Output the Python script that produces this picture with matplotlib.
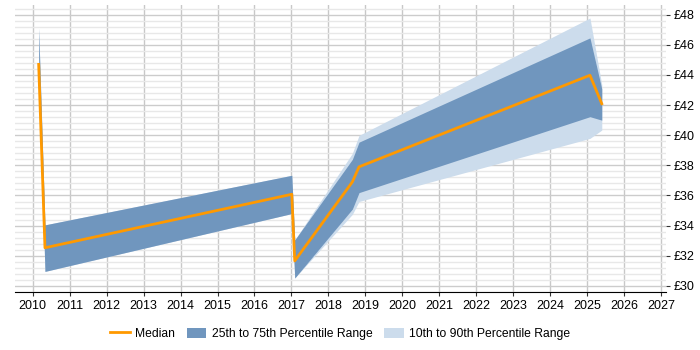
import matplotlib
matplotlib.use("Agg")
import matplotlib.pyplot as plt
from matplotlib.ticker import MultipleLocator, FuncFormatter

plt.rcParams['font.family'] = ['Liberation Sans', 'DejaVu Sans']

# values (year as decimal)
years = [2010.16, 2010.33, 2017.01, 2017.09, 2018.65, 2018.83, 2025.08, 2025.40]
median = [44.7, 32.53, 36.08, 31.66, 36.9, 37.9, 43.98, 42.09]
p25 = [44.5, 30.96, 34.8, 30.52, 35.1, 36.19, 41.23, 41.0]
p75 = [47.1, 34.05, 37.34, 33.05, 38.4, 39.54, 46.46, 43.08]
p10 = [44.5, 30.96, 34.8, 30.52, 34.75, 35.6, 39.79, 40.34]
p90 = [47.1, 34.05, 37.34, 33.05, 38.8, 39.99, 47.78, 43.36]

fig = plt.figure(figsize=(7, 3.5), dpi=100)
ax = fig.add_axes([0.022, 0.166, 0.929, 0.82])

ax.fill_between(years, p10, p90, color='#ccdcec', lw=0, label='10th to 90th Percentile Range', zorder=2)
ax.fill_between(years, p25, p75, color='#7096be', lw=0, label='25th to 75th Percentile Range', zorder=3)
ax.plot(years, median, color='#ff9900', lw=2, label='Median', zorder=4)

ax.set_xlim(2009.53, 2027.13)
ax.set_ylim(29.6, 48.65)
ax.xaxis.set_major_locator(MultipleLocator(1))
ax.yaxis.set_major_locator(MultipleLocator(2))
ax.yaxis.set_minor_locator(MultipleLocator(0.4))
ax.yaxis.set_major_formatter(FuncFormatter(lambda v, p: f'£{v:.0f}'))
ax.yaxis.tick_right()
ax.tick_params(axis='y', which='minor', length=0)
ax.tick_params(axis='both', which='major', labelsize=9, length=3, color='#333333', pad=3)

ax.grid(True, axis='x', which='major', color='#c8c8c8', lw=1, zorder=0)
ax.grid(True, axis='y', which='major', color='#cccccc', lw=1, zorder=0)
ax.grid(True, axis='y', which='minor', color='#e8e8e8', lw=1, zorder=0)
ax.set_axisbelow(True)

for s in ['top', 'left', 'right']:
    ax.spines[s].set_visible(False)
ax.spines['bottom'].set_color('black')

handles, labels = ax.get_legend_handles_labels()
order = [2, 1, 0]
fig.legend([handles[i] for i in order], [labels[i] for i in order],
           loc='center', bbox_to_anchor=(0.486, 0.046), ncol=3, frameon=False,
           fontsize=8.7, handlelength=1.65, handleheight=1.0, handletextpad=0.45,
           columnspacing=0.95)

fig.savefig('out.png', dpi=100)
